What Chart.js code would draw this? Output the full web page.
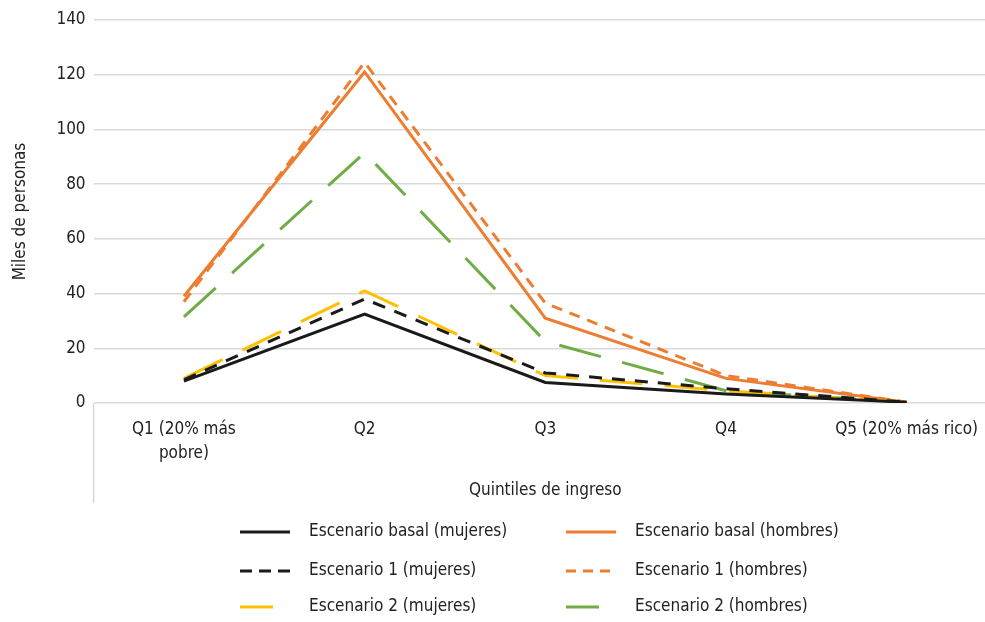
<!DOCTYPE html>
<html>
<head>
<meta charset="utf-8">
<script src="https://cdn.jsdelivr.net/npm/chart.js@4"></script>
<style>
  html, body { margin: 0; padding: 0; background: #fff; overflow: hidden; }
  #wrap { width: 985px; height: 622px; overflow: hidden; }
</style>
</head>
<body>
<div id="wrap"><canvas id="myChart" width="997" height="622"></canvas></div>
<script>
var FONT = "'Liberation Sans Narrow', 'DejaVu Sans Condensed', 'Roboto', sans-serif";

// data (miles de personas)
var categories = [["Q1 (20% más", "pobre)"], "Q2", "Q3", "Q4", "Q5 (20% más rico)"];
var basalMujeres  = [8, 32.5, 7.5, 3.3, 0.3];
var esc1Mujeres   = [8.5, 38, 11, 5.2, 0.3];
var esc2Mujeres   = [9, 41, 10, 4.5, 0.2];
var basalHombres  = [39, 121, 31, 9, 0.3];
var esc1Hombres   = [37, 124.5, 36.5, 10, 0.3];
var esc2Hombres   = [31.5, 91.5, 22.5, 4.5, 0.2];
var yTicks = [0, 20, 40, 60, 80, 100, 120, 140];

function serie(label, data, color, dash, legendDash) {
    return {
        label: label,
        data: data,
        borderColor: color,
        backgroundColor: color,
        borderWidth: 3,
        borderDash: dash,
        legendDash: legendDash,
        borderCapStyle: 'butt',
        pointRadius: 0,
        tension: 0,
        fill: false
    };
}

// legend drawn by hand so the samples are real lines
var legendLines = {
    id: 'legendLines',
    afterDraw: function(chart) {
        var ctx = chart.ctx;
        var area = chart.chartArea;
        ctx.save();
        // left border of the category box
        ctx.strokeStyle = '#d9d9d9';
        ctx.lineWidth = 1.5;
        ctx.beginPath();
        ctx.moveTo(area.left, area.bottom);
        ctx.lineTo(area.left, area.bottom + 100);
        ctx.stroke();

        var cols = [240, 566];
        var rows = [532, 571, 607];
        chart.data.datasets.forEach(function(ds, i) {
            var c = Math.floor(i / 3), r = i % 3;
            var x = cols[c], y = rows[r];
            ctx.strokeStyle = ds.borderColor;
            ctx.lineWidth = ds.borderWidth;
            ctx.setLineDash(ds.legendDash || []);
            ctx.beginPath();
            ctx.moveTo(x, y);
            ctx.lineTo(x + 50, y);
            ctx.stroke();
            ctx.setLineDash([]);
            ctx.fillStyle = '#222';
            ctx.font = "17px " + FONT;
            ctx.textBaseline = 'middle';
            ctx.fillText(ds.label, x + 69, y);
        });
        ctx.restore();
    }
};

var ctx = document.getElementById('myChart');
var chart = new Chart(ctx, {
    type: 'line',
    data: {
        labels: categories,
        datasets: [
            serie('Escenario basal (mujeres)', basalMujeres, '#1a1a1a', [], []),
            serie('Escenario 1 (mujeres)', esc1Mujeres, '#1a1a1a', [13, 10], [12, 7]),
            serie('Escenario 2 (mujeres)', esc2Mujeres, '#ffc000', [43, 22], [33, 17]),
            serie('Escenario basal (hombres)', basalHombres, '#ed7d31', [], []),
            serie('Escenario 1 (hombres)', esc1Hombres, '#ed7d31', [11, 8], [10, 7]),
            serie('Escenario 2 (hombres)', esc2Hombres, '#70ad47', [43, 22], [33, 17])
        ]
    },
    options: {
        responsive: false,
        animation: false,
        layout: { padding: { left: 10, right: 0, top: 20, bottom: 121 } },
        plugins: {
            legend: { display: false },
            tooltip: { enabled: false }
        },
        scales: {
            x: {
                offset: true,
                grid: { display: false },
                border: { display: false },
                ticks: {
                    color: '#222',
                    font: { family: FONT, size: 17, lineHeight: 1.4 },
                    maxRotation: 0,
                    autoSkip: false,
                    padding: 7
                },
                title: {
                    display: true,
                    text: 'Quintiles de ingreso',
                    color: '#222',
                    font: { family: FONT, size: 17 },
                    padding: { top: 8, bottom: 0 }
                }
            },
            y: {
                min: 0,
                max: 140,
                afterBuildTicks: function(axis) {
                    axis.ticks = yTicks.map(function(v) { return { value: v }; });
                },
                grid: { color: '#d9d9d9', lineWidth: 1.5, drawTicks: false },
                border: { display: false },
                ticks: {
                    color: '#222',
                    font: { family: FONT, size: 17 },
                    padding: 8
                },
                title: {
                    display: true,
                    text: 'Miles de personas',
                    color: '#222',
                    font: { family: FONT, size: 17 },
                    padding: { top: 0, bottom: 18 }
                }
            }
        }
    },
    plugins: [legendLines]
});
</script>
</body>
</html>
